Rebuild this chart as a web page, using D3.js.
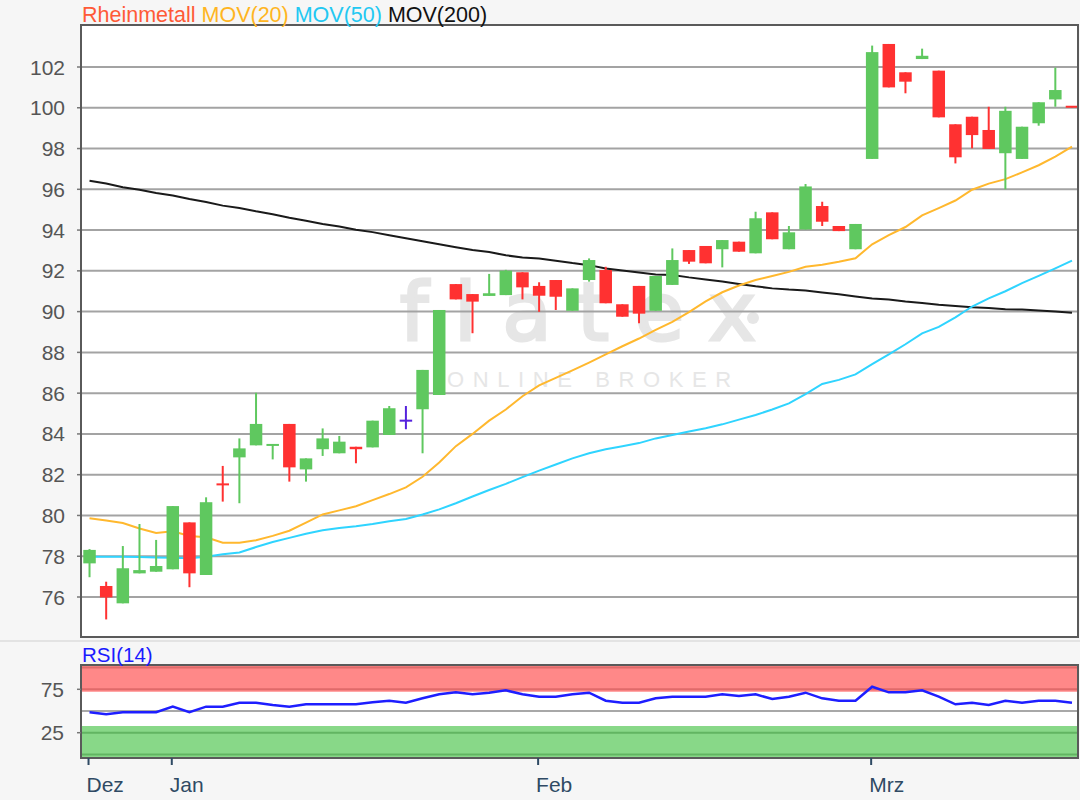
<!DOCTYPE html>
<html><head><meta charset="utf-8">
<script src="https://cdn.jsdelivr.net/npm/d3@7"></script>
<style>
html,body{margin:0;padding:0;background:#f6f6f6;}
svg{display:block;font-family:"Liberation Sans",Arial,sans-serif;}
</style>
</head><body>
<svg id="chart" width="1080" height="800"></svg>
<script>
// ---- data ----
const openP  = [77.65,76.54,75.69,77.16,77.24,77.36,79.66,77.08,81.55,82.85,83.44,83.42,84.49,82.26,83.25,83.05,83.37,83.34,83.95,84.65,
                85.21,85.91,91.35,90.86,90.77,90.81,91.93,91.26,91.55,90.04,91.55,92.04,90.36,91.26,90.04,91.31,93.02,93.22,93.06,93.43,
                92.86,94.87,93.06,94.03,95.18,94.2,93.06,97.49,103.13,101.74,102.39,101.82,99.19,99.56,98.91,97.77,97.49,99.24,100.41,100.08];
const highP  = [78.35,76.75,78.5,79.58,78.8,80.46,79.66,80.89,82.43,83.78,86.02,83.5,84.49,82.8,84.27,83.9,83.37,84.65,85.37,85.37,
                87.14,90.08,91.35,90.86,91.85,92.05,91.93,91.44,91.55,91.14,92.61,92.2,90.36,91.26,91.75,93.1,93.02,93.22,93.51,93.43,
                94.9,94.87,94.2,96.26,95.39,94.2,94.3,103.05,103.13,101.74,102.9,101.82,99.19,99.56,100.05,100.05,99.07,100.27,101.97,100.08];
const lowP   = [76.97,74.9,75.69,77.16,77.24,77.36,76.48,77.08,80.68,80.6,83.44,82.75,81.66,81.66,82.92,83.05,82.56,83.34,83.95,84.23,
                83.05,85.91,90.6,88.94,90.77,90.81,90.6,89.99,90.08,90.04,91.47,90.41,89.75,89.43,90.04,91.31,92.34,92.37,92.17,92.94,
                92.86,93.55,93.06,94.03,94.2,93.95,93.06,97.49,101.0,100.71,102.39,99.53,97.27,98.01,97.98,96.0,97.49,99.12,100.05,100.02];
const closeP = [78.31,75.98,77.41,77.32,77.52,80.46,77.16,80.65,81.5,83.29,84.49,83.5,82.36,82.8,83.78,83.62,83.25,84.65,85.26,84.65,
                87.14,90.08,90.6,90.49,90.9,92.01,91.19,90.78,90.73,91.14,92.53,90.41,89.75,89.9,91.75,92.53,92.45,92.37,93.51,92.94,
                94.58,93.55,93.89,96.14,94.41,93.95,94.3,102.73,101.0,101.28,102.55,99.53,97.57,98.66,97.98,99.85,99.07,100.27,100.87,100.02];

const mov20  = [79.86,79.75,79.63,79.36,79.14,79.22,78.99,78.93,78.66,78.66,78.78,79.0,79.25,79.65,80.05,80.25,80.45,80.75,81.05,81.38,
                81.9,82.6,83.4,84.0,84.65,85.2,85.85,86.38,86.75,87.12,87.5,87.9,88.3,88.68,89.1,89.5,89.98,90.5,90.95,91.28,
                91.55,91.75,91.95,92.2,92.3,92.45,92.62,93.3,93.75,94.15,94.72,95.08,95.45,95.98,96.28,96.5,96.83,97.18,97.6,98.09];
const mov50  = [77.98,77.98,77.98,77.96,77.94,77.92,77.9,77.98,78.1,78.18,78.45,78.7,78.9,79.1,79.27,79.38,79.47,79.58,79.72,79.83,
                80.05,80.3,80.6,80.93,81.25,81.55,81.88,82.2,82.5,82.8,83.05,83.25,83.4,83.55,83.78,83.95,84.12,84.28,84.47,84.7,
                84.93,85.2,85.5,85.95,86.45,86.65,86.92,87.42,87.9,88.4,88.93,89.25,89.72,90.25,90.65,91.0,91.4,91.75,92.12,92.5];
const mov200 = [96.42,96.28,96.1,95.98,95.82,95.7,95.52,95.38,95.2,95.08,94.92,94.78,94.6,94.46,94.3,94.18,94.02,93.9,93.75,93.6,
                93.45,93.3,93.16,93.02,92.92,92.76,92.66,92.6,92.5,92.38,92.28,92.12,92.02,91.92,91.82,91.8,91.68,91.58,91.48,91.36,
                91.24,91.14,91.08,91.04,90.94,90.85,90.74,90.64,90.6,90.5,90.42,90.34,90.28,90.22,90.18,90.12,90.1,90.05,90.0,89.95];
const rsi14  = [48.5,46.2,48.5,48.5,48.5,55,48.5,55,55,59.6,59.6,56.9,55,57.7,57.7,57.7,57.7,60,61.9,59.6,
                64.6,69.2,71.5,69.2,71.1,73.8,69.2,66.5,66.5,69.2,71.1,61.9,59.6,59.6,64.6,66.5,66.5,66.5,69.2,67.3,
                69.2,63.8,66.5,71.1,64.6,61.9,61.9,78,71.5,71.5,73.8,66.5,57.7,59.6,56.9,61.9,59.6,61.9,61.9,59.6];

const priceTicks = [76,78,80,82,84,86,88,90,92,94,96,98,100,102];
const rsiTicks = [25,75];
const monthTickIndex = [0,5,27,47];
const monthTickLabels = ["Dez","Jan","Feb","Mrz"];
const legendItems = ["Rheinmetall","MOV(20)","MOV(50)","MOV(200)"];
const legendColors = ["#ff5a36","#ffb522","#22c8f2","#111111"];

// ---- layout ----
const svg = d3.select("#chart");
const P = {l:81, r:1078, t:25, b:637};
const R = {t:665, b:758};
const n = closeP.length;

const x = d3.scaleLinear().domain([-0.5, n - 0.5]).range([81.2, 1080.3]);
const y = d3.scaleLinear().domain([76, 102]).range([597, 67]);
const yr = d3.scaleLinear().domain([0, 100]).range([754.4, 667.6]);

svg.append("rect").attr("width",1080).attr("height",800).attr("fill","#f6f6f6");
svg.append("line").attr("x1",0).attr("x2",1080).attr("y1",641).attr("y2",641).attr("stroke","#dcdcdc").attr("stroke-width",1.5);

// main plot background
svg.append("rect").attr("x",P.l).attr("y",P.t).attr("width",P.r-P.l).attr("height",P.b-P.t).attr("fill","#fff");

// clip
svg.append("clipPath").attr("id","clipMain").append("rect")
  .attr("x",P.l).attr("y",P.t).attr("width",P.r-P.l).attr("height",P.b-P.t);
svg.append("clipPath").attr("id","clipRsi").append("rect")
  .attr("x",P.l).attr("y",R.t).attr("width",P.r-P.l).attr("height",R.b-R.t);

// watermark
const wm = svg.append("g").attr("clip-path","url(#clipMain)");
wm.append("text").attr("x",400).attr("y",340).attr("font-size",80)
  .attr("letter-spacing",26).attr("fill","#e6e6e6").attr("stroke","#e6e6e6").attr("stroke-width",3)
  .attr("font-family","'DejaVu Sans',sans-serif").text("flatex");
wm.append("circle").attr("cx",753).attr("cy",318).attr("r",6).attr("fill","#e6e6e6");
wm.append("text").attr("x",447).attr("y",387).attr("font-size",22).attr("letter-spacing",8.6)
  .attr("fill","#e6e6e6").text("ONLINE BROKER");

// grid
const g = svg.append("g");
g.selectAll("line.grid").data(priceTicks).join("line")
  .attr("x1",P.l).attr("x2",P.r).attr("y1",d=>y(d)).attr("y2",d=>y(d))
  .attr("stroke","#a3a3a3").attr("stroke-width",2);

// y axis labels & ticks
g.selectAll("text.yl").data(priceTicks).join("text")
  .attr("x",65).attr("y",d=>y(d)).attr("dy","0.36em").attr("text-anchor","end")
  .attr("font-size",21).attr("fill","#555").text(d=>d);
g.selectAll("line.yt").data(priceTicks).join("line")
  .attr("x1",77).attr("x2",P.l).attr("y1",d=>y(d)).attr("y2",d=>y(d)).attr("stroke","#777").attr("stroke-width",1.5);

// moving averages
const plotG = svg.append("g").attr("clip-path","url(#clipMain)");
const lineGen = arr => d3.line().x((d,i)=>x(i)).y(d=>y(d))(arr);
plotG.append("path").attr("d",lineGen(mov200)).attr("fill","none").attr("stroke","#1a1a1a").attr("stroke-width",2);
plotG.append("path").attr("d",lineGen(mov50)).attr("fill","none").attr("stroke","#2fd4ff").attr("stroke-width",2);
plotG.append("path").attr("d",lineGen(mov20)).attr("fill","none").attr("stroke","#ffb82e").attr("stroke-width",2);

// candles
const idx = d3.range(n);
const col = i => closeP[i] > openP[i] ? "#5fc85f" : (closeP[i] < openP[i] ? "#ff3131" : "#5522dd");
const bw = 12.5;
plotG.selectAll("line.wick").data(idx).join("line")
  .attr("x1",i=>x(i)).attr("x2",i=>x(i)).attr("y1",i=>y(highP[i])).attr("y2",i=>y(lowP[i]))
  .attr("stroke",col).attr("stroke-width",2);
plotG.selectAll("rect.body").data(idx).join("rect")
  .attr("x",i=>x(i)-bw/2).attr("width",bw)
  .attr("y",i=>{const t=y(Math.max(openP[i],closeP[i])); const h=Math.abs(y(openP[i])-y(closeP[i])); return h<2? t-(2-h)/2 : t;})
  .attr("height",i=>Math.max(2,Math.abs(y(openP[i])-y(closeP[i]))))
  .attr("fill",col);

// main frame
svg.append("rect").attr("x",P.l).attr("y",P.t).attr("width",P.r-P.l).attr("height",P.b-P.t)
  .attr("fill","none").attr("stroke","#5a5a5a").attr("stroke-width",2);

// legend
const leg = svg.append("text").attr("x",82).attr("y",22).attr("font-size",21.5);
legendItems.forEach((t,i)=>{
  leg.append("tspan").attr("fill",legendColors[i]).text((i?" ":"")+t);
});

// ---- RSI panel ----
svg.append("rect").attr("x",P.l).attr("y",R.t).attr("width",P.r-P.l).attr("height",R.b-R.t).attr("fill","#fff");
const rg = svg.append("g").attr("clip-path","url(#clipRsi)");
rg.append("rect").attr("x",P.l).attr("width",P.r-P.l).attr("y",yr(110)).attr("height",yr(72.2)-yr(110)).attr("fill","#ff8888");
rg.append("rect").attr("x",P.l).attr("width",P.r-P.l).attr("y",yr(32.7)).attr("height",yr(-10)-yr(32.7)).attr("fill","#88d888");
rg.append("line").attr("x1",P.l).attr("x2",P.r).attr("y1",yr(100)).attr("y2",yr(100)).attr("stroke","#e06a6a").attr("stroke-width",2);
rg.append("line").attr("x1",P.l).attr("x2",P.r).attr("y1",yr(75)).attr("y2",yr(75)).attr("stroke","#e06a6a").attr("stroke-width",2);
rg.append("line").attr("x1",P.l).attr("x2",P.r).attr("y1",yr(25)).attr("y2",yr(25)).attr("stroke","#62b562").attr("stroke-width",2);
rg.append("line").attr("x1",P.l).attr("x2",P.r).attr("y1",yr(0)).attr("y2",yr(0)).attr("stroke","#62b562").attr("stroke-width",2);
rg.append("line").attr("x1",P.l).attr("x2",P.r).attr("y1",yr(50)).attr("y2",yr(50)).attr("stroke","#a8a8a8").attr("stroke-width",2);
rg.append("path").attr("d",d3.line().x((d,i)=>x(i)).y(d=>yr(d))(rsi14))
  .attr("fill","none").attr("stroke","#1e1eff").attr("stroke-width",2.5);

svg.append("rect").attr("x",P.l).attr("y",R.t).attr("width",P.r-P.l).attr("height",R.b-R.t)
  .attr("fill","none").attr("stroke","#5a5a5a").attr("stroke-width",2);

svg.selectAll("text.rl").data(rsiTicks).join("text")
  .attr("x",64).attr("y",d=>yr(d)).attr("dy","0.36em").attr("text-anchor","end")
  .attr("font-size",21).attr("fill","#555").text(d=>d);
svg.selectAll("line.rt").data(rsiTicks).join("line")
  .attr("x1",77).attr("x2",P.l).attr("y1",d=>yr(d)).attr("y2",d=>yr(d)).attr("stroke","#777").attr("stroke-width",1.5);

svg.append("text").attr("x",82).attr("y",662).attr("font-size",20.5).attr("fill","#1a1aff").text("RSI(14)");

// x axis
const xa = svg.append("g");
xa.selectAll("line").data(monthTickIndex).join("line")
  .attr("x1",i=>x(i)-1).attr("x2",i=>x(i)-1).attr("y1",R.b).attr("y2",R.b+7)
  .attr("stroke","#2f4a64").attr("stroke-width",2);
xa.selectAll("text").data(monthTickIndex).join("text")
  .attr("x",i=>x(i)-3).attr("y",792).attr("font-size",21).attr("fill","#2f4a64")
  .text((d,k)=>monthTickLabels[k]);
</script>
</body></html>
